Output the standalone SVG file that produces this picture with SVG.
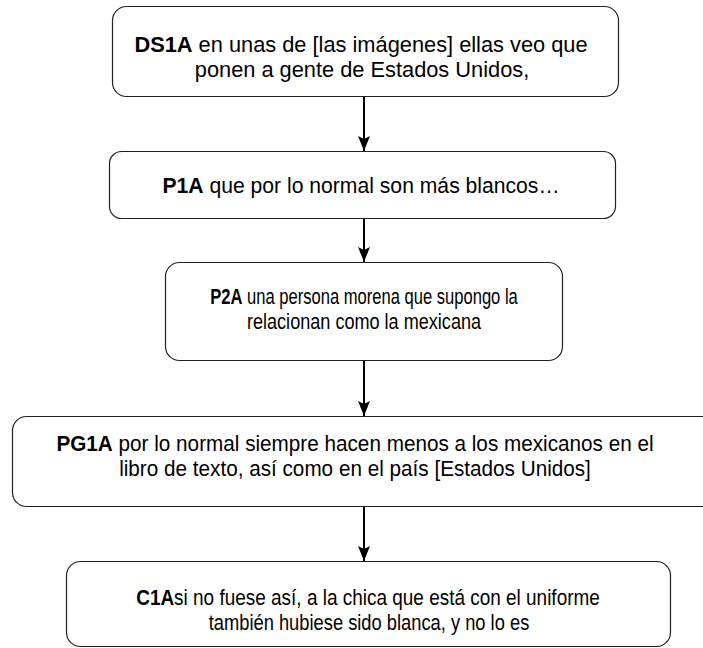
<svg xmlns="http://www.w3.org/2000/svg" width="703" height="648" viewBox="0 0 703 648">
<defs>
<style>
.box{fill:#fff;stroke:#222;stroke-width:1.2}
.t{font-family:"Liberation Sans",Arial,sans-serif;font-size:21.8px;fill:#000;text-anchor:middle}
.b{font-weight:bold}
.c{stroke:#000;stroke-width:2;fill:none}
</style>
<marker id="ah" markerUnits="userSpaceOnUse" markerWidth="16" markerHeight="14" refX="15" refY="7" orient="auto" viewBox="0 0 16 14">
<path d="M0,1 L15,7 L0,13 L3,7 Z" fill="#000"/>
</marker>
</defs>
<rect width="703" height="648" fill="#fff"/>
<g id="connectors">
<line class="c" x1="364" y1="97" x2="364" y2="151" marker-end="url(#ah)"/>
<line class="c" x1="364" y1="219" x2="364" y2="262" marker-end="url(#ah)"/>
<line class="c" x1="364" y1="361" x2="364" y2="416" marker-end="url(#ah)"/>
<line class="c" x1="364" y1="507" x2="364" y2="561" marker-end="url(#ah)"/>
</g>
<g id="DS1A">
<rect class="box" x="112.5" y="6.5" width="506" height="90" rx="14"/>
<text class="t" x="361" y="52"><tspan class="b">DS1A</tspan> en unas de [las imágenes] ellas veo que</text>
<text class="t" x="362" y="77">ponen a gente de Estados Unidos,</text>
</g>
<g id="P1A">
<rect class="box" x="109.5" y="151.5" width="506" height="67" rx="12"/>
<text class="t" transform="translate(361,193) scale(0.97,1)"><tspan class="b">P1A</tspan> que por lo normal son más blancos…</text>
</g>
<g id="P2A">
<rect class="box" x="165.5" y="262.5" width="397" height="98" rx="14"/>
<text class="t" transform="translate(364,304) scale(0.76,1)"><tspan class="b">P2A</tspan> una persona morena que supongo la</text>
<text class="t" transform="translate(364,329) scale(0.83,1)">relacionan como la mexicana</text>
</g>
<g id="PG1A">
<rect class="box" x="12.5" y="416.5" width="704" height="90" rx="14"/>
<text class="t" transform="translate(355,451) scale(0.95,1)"><tspan class="b">PG1A</tspan> por lo normal siempre hacen menos a los mexicanos en el</text>
<text class="t" transform="translate(355,476) scale(0.95,1)">libro de texto, así como en el país [Estados Unidos]</text>
</g>
<g id="C1A">
<rect class="box" x="66.5" y="561.5" width="604" height="85" rx="14"/>
<text class="t" transform="translate(368,605) scale(0.87,1)"><tspan class="b">C1A</tspan>si no fuese así, a la chica que está con el uniforme</text>
<text class="t" transform="translate(369,630) scale(0.84,1)">también hubiese sido blanca, y no lo es</text>
</g>
</svg>
